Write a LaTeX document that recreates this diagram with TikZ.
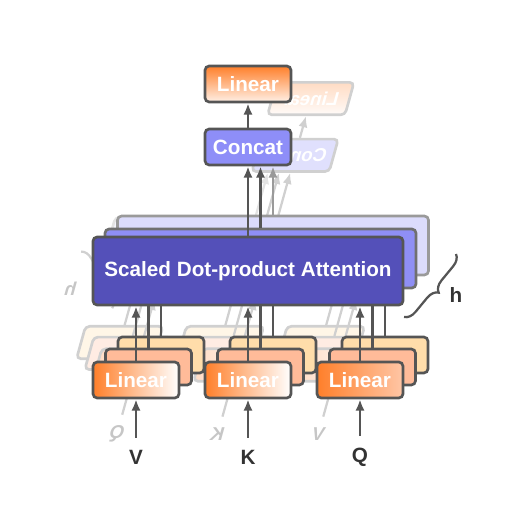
\documentclass[tikz,border=0pt]{standalone}
\usepackage{fontspec}
\setmainfont{Liberation Sans}
\usetikzlibrary{arrows.meta,calc,positioning,decorations.pathreplacing}
\definecolor{darkgrey}{HTML}{555555}
\definecolor{midgrey}{HTML}{707070}
\definecolor{lightgrey}{HTML}{9A9A9A}
\definecolor{labelgrey}{HTML}{333333}
\definecolor{attA}{HTML}{5450B9}
\definecolor{attB}{HTML}{8F8FF5}
\definecolor{attC}{HTML}{DCDCFC}
\definecolor{concatC}{HTML}{8E8EF8}
\definecolor{linA}{HTML}{FF7F2A}
\definecolor{linB}{HTML}{FFBB99}
\definecolor{linC}{HTML}{FFDDAA}
\definecolor{linQ}{HTML}{FFC6A6}
\definecolor{linTop}{HTML}{FFF0E6}
\tikzset{
  box/.style={draw=darkgrey, line width=1.9pt, rounded corners=3pt, inner sep=0pt,
    text=white, font=\bfseries\fontsize{14.7}{17}\selectfont},
  linbox/.style={box, minimum width=2.15cm, minimum height=0.9cm},
  attbox/.style={box, minimum width=7.775cm, minimum height=1.475cm},
  feed/.style={darkgrey, line width=1.6pt},
  arr/.style={feed, -{Latex[length=8pt,width=6.5pt]}},
  inlabel/.style={text=labelgrey, font=\bfseries\fontsize{14.7}{17}\selectfont},
  bracedec/.style={darkgrey, line width=1.6pt, decorate, decoration={brace, amplitude=8pt}}
}
\newcommand{\mhadrawing}{%
  % Back layer
  \node[attbox, draw=lightgrey, fill=attC] (att2) at (273,245.5) {};
  \node[linbox, fill=linC] (lv2) at (161,355) {};
  \node[linbox, fill=linC] (lk2) at (273,355) {};
  \node[linbox, fill=linC] (lq2) at (385,355) {};
  \draw[feed] (lv2.north) -- (lv2.north |- att2.south);
  \draw[feed] (lk2.north) -- (lk2.north |- att2.south);
  \draw[feed] (lq2.north) -- (lq2.north |- att2.south);
  % Middle layer
  \node[attbox, draw=midgrey, fill=attB] (att1) at (260.5,258.5) {};
  \node[linbox, fill=linB] (lv1) at (148.5,367) {};
  \node[linbox, fill=linB] (lk1) at (260.5,367) {};
  \node[linbox, fill=linB] (lq1) at (372.5,367) {};
  \draw[feed] (lv1.north) -- (lv1.north |- att1.south);
  \draw[feed] (lk1.north) -- (lk1.north |- att1.south);
  \draw[feed] (lq1.north) -- (lq1.north |- att1.south);
  % Front layer
  \node[attbox, fill=attA, minimum width=7.75cm, minimum height=1.7cm] (att0) at (248,271) {Scaled Dot-product Attention};
  \node[linbox, left color=linA, right color=white] (lv0) at (136,380) {Linear};
  \node[linbox, left color=linA, right color=white] (lk0) at (248,380) {Linear};
  \node[linbox, left color=linA, right color=linQ] (lq0) at (360,380) {Linear};
  \draw[arr] (lv0) -- (lv0.north |- att0.south);
  \draw[arr] (lk0) -- (lk0.north |- att0.south);
  \draw[arr] (lq0) -- (lq0.north |- att0.south);
  % Concat and output projection
  \node[linbox, fill=concatC] (concat) at (248,147) {Concat};
  \node[linbox, top color=linA, bottom color=linTop] (out) at (248,84) {Linear};
  \draw[arr, lightgrey] (att2.north) -- (att2.north |- concat.south);
  \draw[arr] (att1.north) -- (att1.north |- concat.south);
  \draw[arr] (att0) -- (concat);
  \draw[arr] (concat) -- (out);
  % Inputs
  \node[inlabel] (V) at (136,457) {V};
  \node[inlabel] (K) at (248,457) {K};
  \node[inlabel] (Q) at (360,457) {Q};
  \draw[arr, shorten <=5pt] (V) -- (lv0);
  \draw[arr, shorten <=5pt] (K) -- (lk0);
  \draw[arr, shorten <=5pt] (Q) -- (lq0);
  % Heads brace
  \coordinate (braceTop) at (456,254);
  \coordinate (braceBot) at (404,317);
  \draw[bracedec] (braceTop) -- (braceBot);
  \node[inlabel] (h) at (456,295) {h};
}
\begin{document}
\begin{tikzpicture}[x=0.025cm, y=-0.025cm]
  \useasboundingbox (0,0) rectangle (528,514);
  % Faded mirrored copy behind
  \begin{scope}[transparency group, opacity=0.28, cm={-0.9,0,0.25,0.9,(555,23)}, transform shape]
    \mhadrawing
  \end{scope}
  % Main diagram
  \mhadrawing
\end{tikzpicture}
\end{document}
